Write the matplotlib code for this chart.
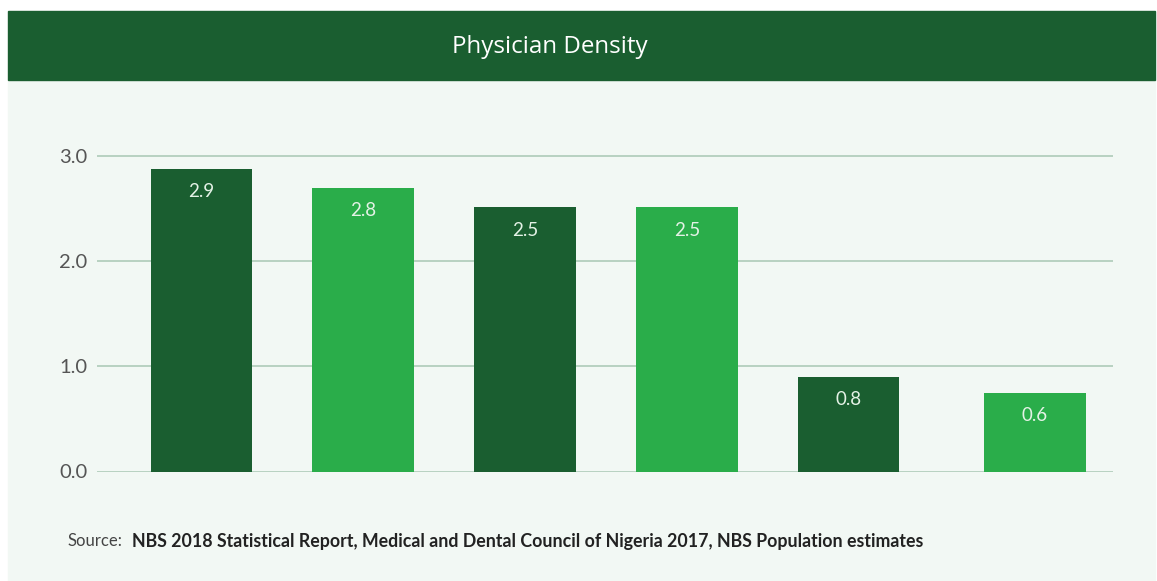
import matplotlib.pyplot as plt
from matplotlib.patches import Rectangle

# Chart data
values = [2.88, 2.70, 2.51, 2.51, 0.90, 0.75]
value_labels = ['2.9', '2.8', '2.5', '2.5', '0.8', '0.6']
yticks = [0.0, 1.0, 2.0, 3.0]
ytick_labels = ['0.0', '1.0', '2.0', '3.0']
title = 'Physician Density'
source_label = 'Source:'
source_text = 'NBS 2018 Statistical Report, Medical and Dental Council of Nigeria 2017, NBS Population estimates'

# Layout / style
bar_pos = [0, 1, 2, 3, 4, 5.15]
bar_colors = ['#1a5e30', '#2aad4a'] * 3
dark = '#1a5e30'
bg = '#f2f8f4'
W, H = 1157, 581

fig = plt.figure(figsize=(W / 100, H / 100), dpi=100)
fig.patch.set_facecolor('white')
fig.patches.append(Rectangle((8 / W, 0), (1155 - 8) / W, (H - 80) / H,
                             transform=fig.transFigure, color=bg, zorder=-2))
fig.patches.append(Rectangle((8 / W, (H - 80) / H), (1155 - 8) / W, 69 / H,
                             transform=fig.transFigure, color=dark, zorder=-1))
fig.text(550 / W, 1 - 47 / H, title, color='white', fontsize=17.4,
         family=['Open Sans', 'DejaVu Sans'], ha='center', va='center')

ax = fig.add_axes([97 / W, (H - 471.5) / H, 1016 / W, 320.8 / H])
ax.set_facecolor(bg)
ax.patch.set_alpha(0)

bars = ax.bar(bar_pos, values, width=0.63, color=bar_colors, zorder=3)
for b, lab in zip(bars, value_labels):
    ax.text(b.get_x() + b.get_width() / 2, b.get_height() - 0.22, lab,
            ha='center', va='center', color='#e4f2e6', fontsize=13.5,
            family=['Lato', 'DejaVu Sans'], zorder=4)

ax.set_xlim(-0.646, 5.635)
ax.set_ylim(0, 3.05)
ax.set_yticks(yticks)
ax.set_yticklabels(ytick_labels)
ax.set_xticks([])
ax.grid(axis='y', color='#b3cfbd', linewidth=1.3, zorder=1)
ax.tick_params(axis='y', length=0, pad=7, labelsize=14.5, labelcolor='#555555')
for lbl in ax.get_yticklabels():
    lbl.set_family(['Lato', 'DejaVu Sans'])
for s in ax.spines.values():
    s.set_visible(False)

fig.text(68 / W, 1 - 541 / H, source_label, color='#444444', fontsize=12,
         family=['Lato', 'DejaVu Sans'], va='center')
fig.text(132 / W, 1 - 541 / H, source_text, color='#222222', fontsize=12.8,
         family=['Lato', 'DejaVu Sans'], fontweight='bold', va='center')

fig.savefig('out.png', dpi=100)
